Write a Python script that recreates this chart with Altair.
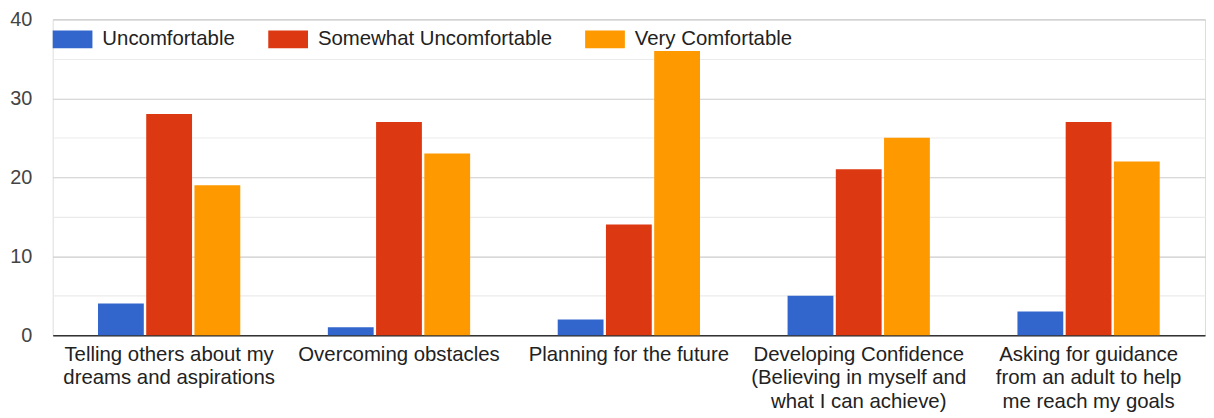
import altair as alt
import pandas as pd

categories = [
    "Telling others about my|dreams and aspirations",
    "Overcoming obstacles",
    "Planning for the future",
    "Developing Confidence|(Believing in myself and|what I can achieve)",
    "Asking for guidance|from an adult to help|me reach my goals",
]
series = ["Uncomfortable", "Somewhat Uncomfortable", "Very Comfortable"]
uncomfortable = [4, 1, 2, 5, 3]
somewhat_uncomfortable = [28, 27, 14, 21, 27]
very_comfortable = [19, 23, 36, 25, 22]
colors = ["#3366cc", "#dc3912", "#ff9900"]
y_ticks = [0, 5, 10, 15, 20, 25, 30, 35, 40]

rows = []
for i, c in enumerate(categories):
    for s, vals in zip(series, [uncomfortable, somewhat_uncomfortable, very_comfortable]):
        rows.append({"category": c, "series": s, "value": vals[i]})
df = pd.DataFrame(rows)

FONT = "Liberation Sans"

bars = alt.Chart(df).mark_bar().encode(
    x=alt.X(
        "category:N",
        sort=categories,
        scale=alt.Scale(paddingInner=0.381, paddingOuter=0.197),
        axis=alt.Axis(
            title=None,
            labelExpr="split(datum.label, '|')",
            labelFontSize=20.5,
            labelColor="#222222",
            labelFont=FONT,
            labelAngle=0,
            labelPadding=9,
            labelLineHeight=24,
            labelLimit=400,
            ticks=False,
            domain=True,
            domainColor="#333333",
            domainWidth=1.5,
            grid=False,
        ),
    ),
    xOffset=alt.XOffset(
        "series:N",
        sort=series,
        scale=alt.Scale(paddingInner=0.05, paddingOuter=0),
    ),
    y=alt.Y(
        "value:Q",
        scale=alt.Scale(domain=[0, 40], nice=False),
        axis=alt.Axis(
            title=None,
            values=y_ticks,
            labelExpr="datum.value % 10 == 0 ? datum.label : ''",
            labelFontSize=20,
            labelColor="#444444",
            labelFont=FONT,
            labelPadding=21,
            ticks=False,
            domain=False,
            gridColor={
                "condition": {"test": "datum.value % 10 == 0", "value": "#cccccc"},
                "value": "#ebebeb",
            },
            gridWidth=1.2,
        ),
    ),
    color=alt.Color(
        "series:N",
        sort=series,
        scale=alt.Scale(domain=series, range=colors),
        legend=alt.Legend(
            title=None,
            orient="none",
            legendX=0,
            legendY=0,
            direction="horizontal",
            symbolType="M-1,-0.45H1V0.45H-1Z",
            symbolSize=1600,
            symbolStrokeWidth=0,
            symbolOpacity=1,
            labelFontSize=20.5,
            labelColor="#222222",
            labelFont=FONT,
            labelOffset=10,
            columnPadding=33,
            padding=0,
            labelLimit=400,
        ),
    ),
)

chart = bars.properties(
    width=1160,
    height=318,
    autosize=alt.AutoSizeParams(type="none"),
    padding={"left": 45, "top": 10, "right": 1, "bottom": 80},
).configure_view(stroke=None).configure(background="white")

chart.save("out.html", embed_options={"renderer": "svg", "actions": False})
